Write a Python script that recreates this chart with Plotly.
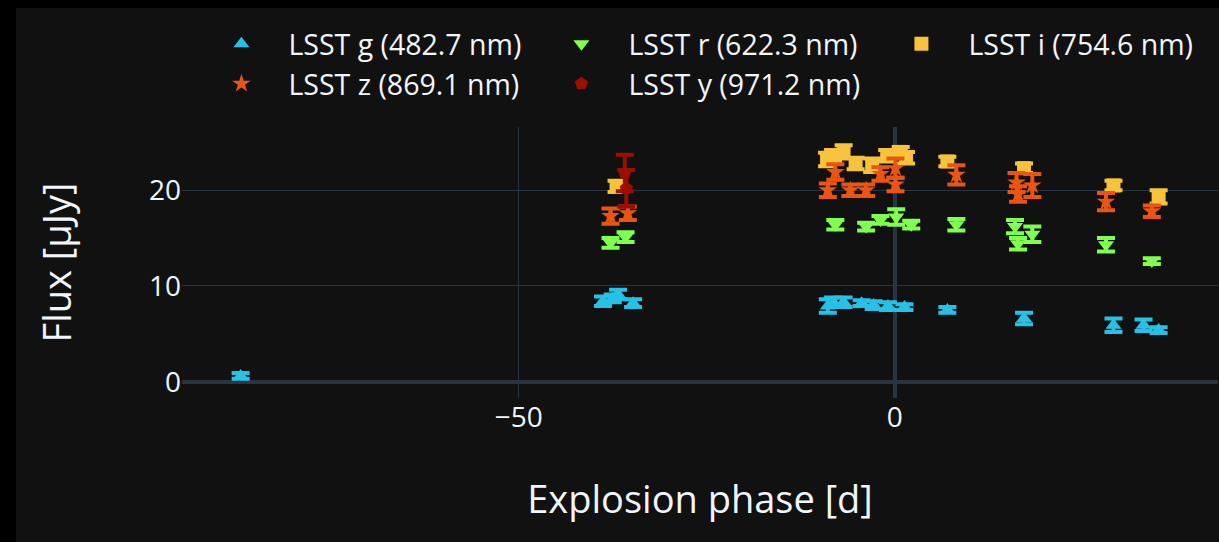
import plotly.graph_objects as go

# ---- data (explosion phase [d], flux [uJy], flux error [uJy]) ----
g_phase = [-87.0, -38.8, -37.5, -36.8, -34.8, -8.9, -8.2, -6.8, -4.4, -2.8, -0.9, 1.3, 7.0, 17.2, 29.1, 33.1, 35.1]
g_flux  = [0.6, 8.4, 8.7, 9.1, 8.2, 7.9, 8.3, 8.3, 8.2, 8.0, 7.9, 7.8, 7.5, 6.6, 5.9, 5.9, 5.4]
g_err   = [0.3, 0.5, 0.4, 0.5, 0.4, 0.7, 0.5, 0.5, 0.3, 0.4, 0.4, 0.3, 0.3, 0.6, 0.7, 0.6, 0.3]

r_phase = [-37.8, -35.8, -7.9, -3.8, -1.9, 0.2, 2.2, 8.2, 16.0, 16.4, 18.3, 28.1, 34.2]
r_flux  = [14.5, 15.1, 16.4, 16.2, 16.9, 17.2, 16.4, 16.4, 16.2, 14.4, 15.4, 14.3, 12.6]
r_err   = [0.5, 0.5, 0.5, 0.4, 0.4, 0.8, 0.4, 0.6, 0.7, 0.6, 0.8, 0.7, 0.3]

i_phase = [-37.0, -9.0, -8.2, -6.8, -5.2, -3.0, -1.0, 0.8, 1.5, 7.0, 17.2, 29.1, 35.1]
i_flux  = [20.4, 23.2, 23.6, 24.0, 22.8, 22.6, 23.6, 24.0, 23.4, 23.0, 22.3, 20.5, 19.3]
i_err   = [0.6, 0.7, 0.6, 0.7, 0.6, 0.7, 0.6, 0.5, 0.6, 0.5, 0.5, 0.5, 0.7]

z_phase = [-37.8, -35.5, -8.9, -7.9, -5.9, -3.8, -1.9, 0.1, 0.1, 8.2, 16.2, 16.4, 18.3, 28.1, 34.2]
z_flux  = [17.3, 17.6, 20.0, 21.9, 20.0, 20.0, 21.7, 22.3, 20.6, 21.6, 20.8, 19.6, 20.5, 18.8, 17.8]
z_err   = [0.8, 0.7, 0.7, 0.8, 0.6, 0.6, 0.7, 1.0, 0.7, 1.0, 1.0, 0.8, 1.2, 0.9, 0.6]

y_phase = [-35.9, -35.7]
y_flux  = [21.8, 20.2]
y_err   = [1.9, 1.9]

band_names   = ["LSST g (482.7 nm)", "LSST r (622.3 nm)", "LSST i (754.6 nm)",
                "LSST z (869.1 nm)", "LSST y (971.2 nm)"]
band_colors  = ["#27C1E6", "#7FFF4F", "#F8C33C", "#EA5514", "#9B0E00"]
band_symbols = ["triangle-up", "triangle-down", "square", "star", "pentagon"]

x_ticks = [-50, 0]
y_ticks = [0, 10, 20]

series = [
    (g_phase, g_flux, g_err),
    (r_phase, r_flux, r_err),
    (i_phase, i_flux, i_err),
    (z_phase, z_flux, z_err),
    (y_phase, y_flux, y_err),
]

fig = go.Figure()
for (ph, fl, er), name, col, sym in zip(series, band_names, band_colors, band_symbols):
    fig.add_trace(go.Scatter(
        x=ph, y=fl, mode="markers", name=name,
        marker=dict(color=col, symbol=sym, size=14),
        error_y=dict(type="data", array=er, visible=True, color=col,
                     thickness=4, width=9),
    ))

font_family = "Open Sans, Noto Sans, sans-serif"
fig.update_layout(
    template="plotly_dark",
    width=1203, height=534,
    margin=dict(l=166, r=1, t=119, b=144),
    paper_bgcolor="rgb(17,17,17)", plot_bgcolor="rgb(17,17,17)",
    font=dict(family=font_family, color="#f2f5fa", size=28),
    legend=dict(orientation="h", x=0.012, xanchor="left", y=1.40, yanchor="top",
                font=dict(size=28.5), itemwidth=84, entrywidth=241,
                bgcolor="rgba(0,0,0,0)"),
    showlegend=True,
)
fig.update_xaxes(
    title=dict(text="Explosion phase [d]", font=dict(size=38), standoff=52),
    range=[-94.8, 43.0], tickvals=x_ticks, tickfont=dict(size=28),
    gridcolor="#283442", zeroline=True, zerolinecolor="#283442", zerolinewidth=4,
    showline=False,
)
fig.update_yaxes(
    title=dict(text="Flux [μJy]", font=dict(size=38), standoff=65),
    range=[-1.7, 26.6], tickvals=y_ticks, tickfont=dict(size=28),
    gridcolor="#283442", zeroline=True, zerolinecolor="#283442", zerolinewidth=4,
    showline=False,
)

post = ("document.documentElement.style.background='#000';"
        "document.body.style.background='#000';"
        "document.body.style.margin='8px 0 0 16px';"
        "document.body.style.overflow='hidden';")
fig.write_html("out.html", post_script=post)
